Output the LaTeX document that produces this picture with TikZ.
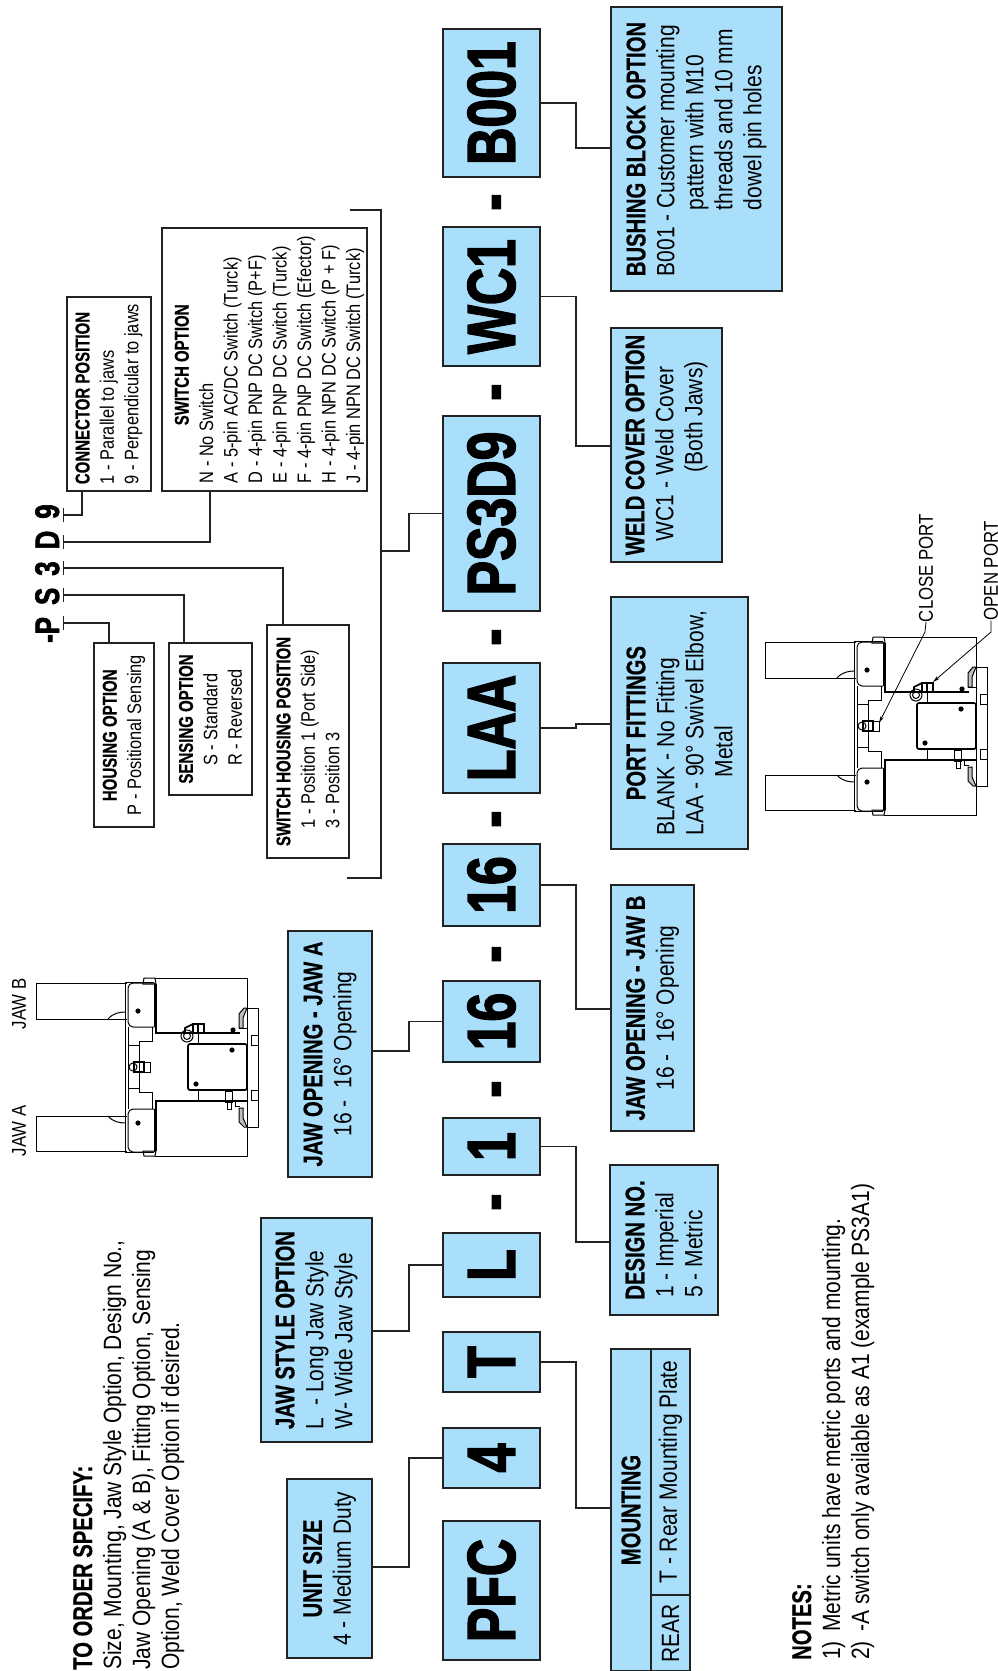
\documentclass[tikz,border=0pt]{standalone}
\usepackage{fontspec}
\usepackage{tikz}
\usetikzlibrary{arrows.meta,calc}
\setmainfont{Liberation Sans}[FakeStretch=.84]
\newfontfamily\headfont{Liberation Sans}[FakeStretch=.75,FakeBold=.5]
\newfontfamily\codefont{Liberation Sans}[FakeStretch=.76,FakeBold=2]
\definecolor{ordBlue}{HTML}{AADFFC}
\definecolor{ordLine}{HTML}{222222}
\newcommand{\opthd}[1]{{\fontsize{27}{29}\selectfont\headfont\bfseries #1}}
\newcommand{\subhd}[1]{{\fontsize{20}{24}\selectfont\headfont\bfseries #1}}
\newcommand{\gripperfig}{%
  \draw[fine] (127,983)--(36,983)--(36,1019)--(127,1019);
  \draw[fine] (127,1116)--(36,1116)--(36,1151)--(127,1151);
  \draw[fine] (108,1019) .. controls (113,1013) and (120,1012) .. (126,1012);
  \draw[fine] (108,1116) .. controls (113,1122) and (120,1123) .. (126,1123);
  \draw[fine] (154,982)--(125,982)--(125,1152)--(154,1152);
  \draw[fine,rounded corners=5pt] (154,983)--(128,983)--(128,1027)--(154,1027);
  \draw[fine,rounded corners=5pt] (154,1109)--(128,1109)--(128,1152)--(154,1152);
  \draw[fine] (154,983)--(154,1027);
  \draw[fine] (154,1109)--(154,1152);
  \draw[fine] (128,1027)--(128,1109);
  \draw[fine] (152,1027)--(152,1041)--(139,1041)--(139,1092)--(152,1092)--(152,1109);
  \draw[fine] (128,1045)--(139,1045);
  \draw[fine] (128,1088)--(139,1088);
  \draw[fine] (143,984)--(144,978)--(155,978)--(156,984)--cycle;
  \draw[fine] (143,1151)--(144,1156)--(155,1156)--(156,1151)--cycle;
  \draw[fine] (155,978)--(247,978)--(247,1156)--(155,1156);
  \draw[heavy] (156,984)--(156,1033)--(240,1033);
  \draw[heavy] (156,1151)--(156,1101)--(247,1101);
  \draw[heavy,rounded corners=2pt] (188,1044) rectangle (247,1090);
  \draw[fine] (198,1033)--(198,1044) (198,1090)--(198,1101);
  \draw[fine] (247,1008)--(258,1008)--(258,1127)--(247,1127);
  \draw[fine,fill=black!25] (239,1028)--(239,1014)--(244,1008)--(247,1008)--(243,1018)--(243,1028)--cycle;
  \draw[fine,fill=black!25] (239,1108)--(239,1122)--(244,1127)--(247,1127)--(243,1118)--(243,1108)--cycle;
  \draw[fine] (239,1028)--(247,1028);
  \draw[fine] (251,1035) rectangle (258,1045);
  \draw[fine] (251,1090) rectangle (258,1100);
  \draw[fine] (225,1091) rectangle (232,1102);
  \draw[fine] (227,1102) rectangle (231,1109);
  \draw[fine] (235,1101)--(235,1106)--(240,1106);
  \draw[fine] (133,1067) circle (4pt);
  \draw[heavy] (134,1062) rectangle (144,1072);
  \draw[fine] (144,1062) rectangle (150,1072);
  \draw[fine] (187,1036) circle (6pt);
  \draw[fine] (187,1036) circle (3.5pt);
  \draw[heavy] (185,1034)--(185,1028)--(193,1024);
  \draw[heavy] (193,1024) rectangle (198,1033);
  \draw[heavy] (198,1024) rectangle (204,1033);
  \foreach \bx/\by in {138/1011,138/1123,232/1050,196/1084,233/1030}
    \fill (\bx,\by) circle (2.6pt);
}
\begin{document}
\begin{tikzpicture}[x=1pt,y=-1pt,
  optbox/.style={draw=ordLine,line width=1.1pt,rotate=90,align=left,inner sep=0pt,outer sep=0pt,
    font=\fontsize{25}{29}\selectfont},
  bluebox/.style={optbox,fill=ordBlue},
  whitebox/.style={optbox,fill=white,font=\fontsize{19.5}{24.5}\selectfont},
  codebox/.style={optbox,fill=ordBlue,align=center,font=\fontsize{68}{70}\selectfont\codefont\bfseries,
    minimum height=97pt},
  dims/.style 2 args={minimum height=#1pt,minimum width=#2pt},
  dashmark/.style={rotate=90,anchor=base,inner sep=0pt,font=\fontsize{68}{70}\selectfont\codefont\bfseries},
  plaintext/.style={rotate=90,anchor=north west,align=left,inner sep=0pt,font=\fontsize{25}{29}\selectfont},
  portlabel/.style={rotate=90,inner sep=0pt,font=\fontsize{20}{24}\selectfont},
  link/.style={draw=ordLine,line width=1.1pt},
  fine/.style={line width=1pt},
  heavy/.style={line width=1.7pt},
  leader/.style={line width=.8pt,-{Stealth[length=7pt,width=3.5pt]}}]
  \useasboundingbox (0,0) rectangle (998,1671);

  \node[codebox,minimum width=139pt] (pfc) at (491.5,1590.5) {PFC};
  \node[codebox,minimum width=60pt] (four) at (491.5,1458) {4};
  \node[codebox,minimum width=60pt] (tee) at (491.5,1362) {T};
  \node[codebox,minimum width=64pt] (ell) at (491.5,1265) {L};
  \node[codebox,minimum width=57pt] (one) at (491.5,1146.5) {1};
  \node[codebox,minimum width=81pt] (sixa) at (491.5,1021.5) {16};
  \node[codebox,minimum width=82pt] (sixb) at (491.5,885) {16};
  \node[codebox,minimum width=130pt] (laa) at (491.5,728) {LAA};
  \node[codebox,minimum width=195pt] (ps) at (491.5,513.5) {PS3D9};
  \node[codebox,minimum width=139pt] (wc) at (491.5,296.5) {WC1};
  \node[codebox,minimum width=148pt] (boo) at (491.5,103) {B001};
  \foreach \dy/\dn in {1202/a,1089/b,954/c,819/d,637/e,392/f,202/g}
    \node[dashmark] (dash\dn) at (514,\dy) {-};

  \node[bluebox,dims={85}{179},align=center] (unitsize) at (329.5,1568.5)
    {\opthd{UNIT SIZE}\\4 - Medium Duty};
  \node[bluebox,dims={111}{224}] (jawstyle) at (316.5,1330)
    {\opthd{JAW STYLE OPTION}\\L\ \ - Long Jaw Style\\W- Wide Jaw Style};
  \node[bluebox,dims={84}{246},align=center] (jawa) at (330,1054)
    {\opthd{JAW OPENING - JAW A}\\16 -\ \ 16° Opening};
  \node[bluebox,dims={108}{150}] (design) at (664,1240)
    {\opthd{DESIGN NO.}\\\hspace*{2pt}1 - Imperial\\\hspace*{2pt}5 - Metric};
  \node[bluebox,dims={83}{246},align=center] (jawb) at (652.5,1008)
    {\opthd{JAW OPENING - JAW B}\\16 -\ \ 16° Opening};
  \node[bluebox,dims={137}{252}] (port) at (679.5,723)
    {\hspace*{35pt}\opthd{PORT FITTINGS}\\BLANK - No Fitting\\LAA - 90° Swivel Elbow,\\\hspace*{58pt}Metal};
  \node[bluebox,dims={111}{234}] (weld) at (666.5,445)
    {\opthd{WELD COVER OPTION}\\\hspace*{14pt}WC1 - Weld Cover\\\hspace*{83pt}(Both Jaws)};
  \node[bluebox,dims={171}{284}] (bushing) at (696.5,149)
    {\opthd{BUSHING BLOCK OPTION}\\B001 - Customer mounting\\\hspace*{66pt}pattern with M10\\\hspace*{66pt}threads and 10 mm\\\hspace*{66pt}dowel pin holes};
  \node[bluebox,dims={40}{322},align=center] (mounthead) at (631,1510)
    {\raisebox{-9pt}{\opthd{MOUNTING}}};
  \node[bluebox,dims={39}{246},align=center] (mountrear) at (670.5,1472) {T - Rear Mounting Plate};
  \node[bluebox,dims={39}{76},align=center] (mounttype) at (670.5,1633) {REAR};

  \node[whitebox,dims={84}{194}] (conpos) at (109,394)
    {\subhd{CONNECTOR POSITION}\\1 - Parallel to jaws\\9 - Perpendicular to jaws};
  \node[whitebox,dims={205}{263}] (swopt) at (264.5,359.5)
    {\rule{0pt}{24pt}\hspace*{58pt}\subhd{SWITCH OPTION}\\N - No Switch\\A - 5-pin AC/DC Switch (Turck)\\D - 4-pin PNP DC Switch (P+F)\\E - 4-pin PNP DC Switch (Turck)\\F - 4-pin PNP DC Switch (Efector)\\H - 4-pin NPN DC Switch (P + F)\\J - 4-pin NPN DC Switch (Turck)};
  \node[whitebox,dims={60}{184}] (housing) at (124,735)
    {\hspace*{14pt}\subhd{HOUSING OPTION}\\P - Positional Sensing};
  \node[whitebox,dims={83}{152}] (sensing) at (210.5,719)
    {\subhd{SENSING OPTION}\\\hspace*{18pt}S - Standard\\\hspace*{18pt}R - Reversed};
  \node[whitebox,dims={82}{233}] (swhouse) at (308,741.5)
    {\subhd{SWITCH HOUSING POSITION}\\\hspace*{18pt}1 - Position 1 (Port Side)\\\hspace*{18pt}3 - Position 3};

  \node[rotate=90,anchor=base west,inner sep=0pt,font=\fontsize{34}{36}\selectfont\codefont\bfseries] (suffix) at (59,643)
    {-P\hspace{12pt}S\hspace{12pt}3\hspace{12pt}D\hspace{12pt}9};
  \coordinate (tickp) at (63,623);
  \coordinate (ticks) at (63,595);
  \coordinate (tickt) at (63,568);
  \coordinate (tickd) at (63,542);
  \coordinate (ticki) at (63,515);
  \draw[link,{Bar[width=14pt]}-] (tickp) -| (109,0 |- housing.east);
  \draw[link,{Bar[width=14pt]}-] (ticks) -| (184,0 |- sensing.east);
  \draw[link,{Bar[width=14pt]}-] (tickt) -| (283,0 |- swhouse.east);
  \draw[link,{Bar[width=14pt]}-] (tickd) -| (210,0 |- swopt.west);
  \draw[link,{Bar[width=14pt]}-] (ticki) -| (82,0 |- conpos.west);

  \draw[link] (unitsize.south |- 0,1567) -- ++(37,0) |- (four.north);
  \draw[link] (jawstyle.south |- 0,1331) -- ++(37,0) |- (ell.north);
  \draw[link] (jawa.south |- 0,1051) -- ++(37,0) |- (sixa.north);
  \draw[link] (tee.south) -- ++(36,0) |- (mounthead.north |- 0,1508);
  \draw[link] (one.south) -- ++(36,0) |- (design.north |- 0,1242);
  \draw[link] (sixb.south) -- ++(36,0) |- (jawb.north |- 0,1009);
  \draw[link] (laa.south) -- ++(36,0) |- (port.north |- 0,724);
  \draw[link] (wc.south) -- ++(36,0) |- (weld.north |- 0,446);
  \draw[link] (boo.south) -- ++(36,0) |- (bushing.north |- 0,148);
  \coordinate (brtop) at (350,210);
  \coordinate (brbot) at (347,878);
  \coordinate (brmid) at (381,551);
  \draw[link] (brtop) -- (381,210) -- (381,878) -- (brbot);
  \draw[link] (ps.north) -- ++(-34,0) |- (brmid);

  \node[plaintext] (order) at (73,1670)
    {\opthd{TO ORDER SPECIFY:}\\Size, Mounting, Jaw Style Option, Design No.,\\Jaw Opening (A \& B), Fitting Option, Sensing\\Option, Weld Cover Option if desired.};
  \node[plaintext] (notes) at (792,1660)
    {\opthd{NOTES:}\\\makebox[28pt][l]{1)}Metric units have metric ports and mounting.\\\makebox[28pt][l]{2)}-A switch only available as A1 (example PS3A1)};

  \gripperfig
  \node[portlabel] (jawalabel) at (19,1131) {JAW A};
  \node[portlabel] (jawblabel) at (19,1004) {JAW B};
  \begin{scope}[shift={(729,-341)}]
    \gripperfig
  \end{scope}
  \node[portlabel] (closeport) at (926,568) {CLOSE PORT};
  \node[portlabel] (openport) at (991,571) {OPEN PORT};
  \coordinate (closetip) at (879,723);
  \coordinate (opentip) at (933,682);
  \draw[leader] (closeport.west) -- (925,632) -- (closetip);
  \draw[leader] (openport.west) -- (991,632) -- (opentip);
\end{tikzpicture}
\end{document}
